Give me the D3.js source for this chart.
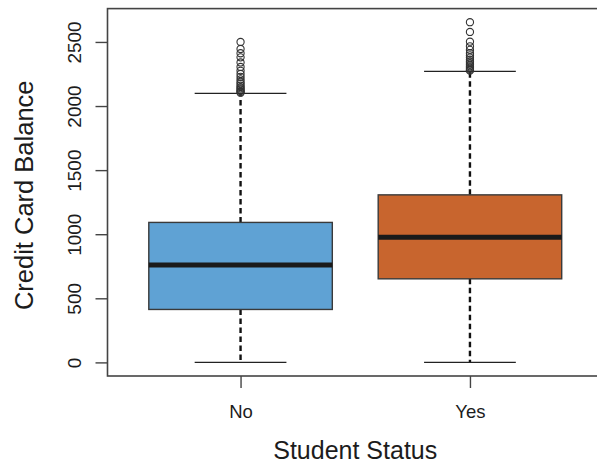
<!DOCTYPE html>
<html>
<head>
<meta charset="utf-8">
<script src="https://cdn.jsdelivr.net/npm/d3@7"></script>
<style>
  html, body { margin: 0; padding: 0; background: #fff; }
  svg { display: block; }
  text { font-family: "Liberation Sans", Arial, sans-serif; fill: #1c1c1c; }
</style>
</head>
<body>
<svg id="chart" width="597" height="465"></svg>
<script>
// Student status groups
const categories = ["No", "Yes"];
// Box statistics per group: lower whisker, Q1, median, Q3, upper whisker
const lowerWhisker = [0, 0];
const q1 = [413, 652];
const medians = [759, 977];
const q3 = [1092, 1307];
const upperWhisker = [2099, 2271];
// Points beyond the upper whisker
const outliersNo = [2500, 2445, 2412, 2380, 2340, 2305, 2275, 2250, 2228, 2208, 2190, 2175, 2160, 2148, 2138, 2128, 2118, 2110, 2104];
const outliersYes = [2654, 2578, 2502, 2466, 2438, 2412, 2395, 2378, 2362, 2348, 2335, 2322, 2310, 2300, 2290, 2282, 2276];
const yTicks = [0, 500, 1000, 1500, 2000, 2500];
const fills = ["#5fa2d4", "#c8652e"];

const svg = d3.select("#chart");
const plotLeft = 107.5, plotRight = 603, plotTop = 8.6, plotBottom = 376;

// Data range padded by 4% on each side, as in base R graphics
const dataMin = 0, dataMax = 2654;
const pad = (dataMax - dataMin) * 0.04;
const y = d3.scaleLinear().domain([dataMin - pad, dataMax + pad]).range([plotBottom, plotTop]);
const x = d3.scaleLinear().domain([0.42, 2.58]).range([plotLeft, plotRight]);

const groups = categories.map((c, i) => ({
  name: c, pos: i + 1,
  lo: lowerWhisker[i], q1: q1[i], med: medians[i], q3: q3[i], hi: upperWhisker[i],
  out: i === 0 ? outliersNo : outliersYes, fill: fills[i]
}));

const boxHalf = x(1.4) - x(1);
const capHalf = x(1.2) - x(1);

const g = svg.selectAll("g.box").data(groups).enter().append("g").attr("class", "box");

// whiskers (dashed)
g.append("line")
  .attr("x1", d => x(d.pos)).attr("x2", d => x(d.pos))
  .attr("y1", d => y(d.q3)).attr("y2", d => y(d.hi))
  .attr("stroke", "#111").attr("stroke-width", 2.4).attr("stroke-dasharray", "5.5,3.5");
g.append("line")
  .attr("x1", d => x(d.pos)).attr("x2", d => x(d.pos))
  .attr("y1", d => y(d.q1)).attr("y2", d => y(d.lo))
  .attr("stroke", "#111").attr("stroke-width", 2.4).attr("stroke-dasharray", "5.5,3.5");
// whisker caps
["lo", "hi"].forEach(k => {
  g.append("line")
    .attr("x1", d => x(d.pos) - capHalf).attr("x2", d => x(d.pos) + capHalf)
    .attr("y1", d => y(d[k])).attr("y2", d => y(d[k]))
    .attr("stroke", "#222").attr("stroke-width", 1.3);
});
// boxes
g.append("rect")
  .attr("x", d => x(d.pos) - boxHalf).attr("width", 2 * boxHalf)
  .attr("y", d => y(d.q3)).attr("height", d => y(d.q1) - y(d.q3))
  .attr("fill", d => d.fill).attr("stroke", "#3a3a3a").attr("stroke-width", 1.4);
// medians
g.append("line")
  .attr("x1", d => x(d.pos) - boxHalf).attr("x2", d => x(d.pos) + boxHalf)
  .attr("y1", d => y(d.med)).attr("y2", d => y(d.med))
  .attr("stroke", "#1a1a1a").attr("stroke-width", 5);
// outliers
g.selectAll("circle").data(d => d.out.map(v => ({ v, pos: d.pos }))).enter().append("circle")
  .attr("cx", d => x(d.pos)).attr("cy", d => y(d.v)).attr("r", 3.6)
  .attr("fill", "none").attr("stroke", "#333").attr("stroke-width", 1.1);

// plot frame
svg.append("rect")
  .attr("x", plotLeft).attr("y", plotTop).attr("width", plotRight - plotLeft).attr("height", plotBottom - plotTop)
  .attr("fill", "none").attr("stroke", "#444").attr("stroke-width", 1.6);

// y axis
const yAxis = svg.append("g").attr("transform", `translate(${plotLeft},0)`)
  .call(d3.axisLeft(y).tickValues(yTicks).tickSize(12).tickFormat(d3.format("d")));
yAxis.select(".domain").remove();
yAxis.selectAll(".tick line").attr("stroke", "#444").attr("stroke-width", 1.4);
yAxis.selectAll(".tick text")
  .attr("x", null).attr("dy", null)
  .attr("transform", "translate(-27,0) rotate(-90)")
  .attr("text-anchor", "middle")
  .style("font-size", "19px").attr("fill", "#1c1c1c");

// x axis
const xAxis = svg.append("g").attr("transform", `translate(0,${plotBottom})`)
  .call(d3.axisBottom(x).tickValues([1, 2]).tickSize(12).tickFormat(d => categories[d - 1]));
xAxis.select(".domain").remove();
xAxis.selectAll(".tick line").attr("stroke", "#444").attr("stroke-width", 1.4);
xAxis.selectAll(".tick text")
  .attr("y", 42).attr("dy", null)
  .style("font-size", "18.5px").attr("fill", "#111");

// axis titles
svg.append("text")
  .attr("transform", `translate(33,${(plotTop + plotBottom) / 2 + 3}) rotate(-90)`)
  .attr("text-anchor", "middle").style("font-size", "25.5px")
  .text("Credit Card Balance");
svg.append("text")
  .attr("x", (plotLeft + plotRight) / 2).attr("y", 459)
  .attr("text-anchor", "middle").style("font-size", "25px")
  .text("Student Status");
</script>
</body>
</html>
